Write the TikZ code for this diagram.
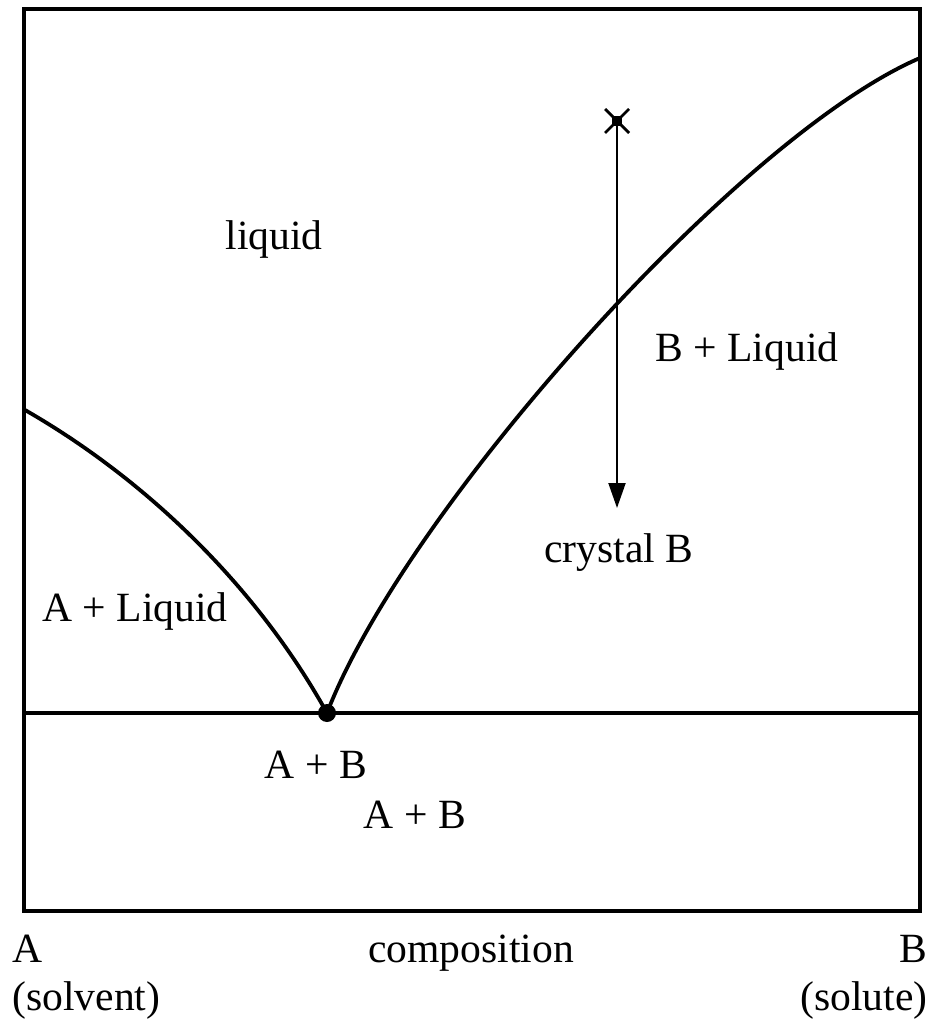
\documentclass[tikz,border=0pt]{standalone}
\usepackage{fontspec}
\setmainfont{Liberation Serif}
\usetikzlibrary{arrows.meta,calc}
\begin{document}
\begin{tikzpicture}[x=0.5pt,y=-0.5pt,
  frame/.style={line width=2pt},
  curve/.style={line width=1.9pt},
  lbl/.style={anchor=base,inner sep=0pt,font=\fontsize{20.8}{24}\selectfont},
  arr/.style={line width=1pt,-{Triangle[length=12.5pt,width=8.5pt]}}]
\useasboundingbox (0,0) rectangle (934,1020);
% frame
\coordinate (TL) at (24,9);
\coordinate (BR) at (920,911);
\draw[frame,line join=miter] (TL) rectangle (BR);
% eutectic line
\coordinate (EL) at (24,713);
\coordinate (ER) at (920,713);
\draw[line width=1.6pt] (EL) -- (ER);
% liquidus curves
\coordinate (LA) at (25,410);
\coordinate (LB) at (920,58);
\node[circle,fill=black,inner sep=0pt,minimum size=9pt] (E) at (327,713) {};
\draw[curve] (LA) .. controls (147,480) and (257,587) .. (E.center);
\draw[curve] (E.center) .. controls (405,510) and (740,135) .. (LB);
% cooling path
\coordinate (X) at (617,121);
\coordinate (T) at (617,508);
\draw[arr] (X) -- (T);
\draw[line width=1.4pt] ($(X)+(-12,-12)$) -- ($(X)+(12,12)$);
\draw[line width=1.4pt] ($(X)+(-12,12)$) -- ($(X)+(12,-12)$);
\fill ($(X)+(-5,-5)$) rectangle ($(X)+(5,5)$);
% labels
\node[lbl] (liq) at (274,250) {liquid};
\node[lbl] (bl) at (747,362) {B + Liquid};
\node[lbl] (cb) at (619,562) {crystal B};
\node[lbl] (al) at (135,621) {A + Liquid};
\node[lbl] (ab1) at (316,778) {A + B};
\node[lbl] (ab2) at (415,828) {A + B};
\node[lbl] (comp) at (471,962) {composition};
\node[lbl,anchor=base west] (a) at (12,962) {A};
\node[lbl,anchor=base west] (sv) at (12,1010) {(solvent)};
\node[lbl,anchor=base east] (b) at (928,962) {B};
\node[lbl,anchor=base east] (su) at (928,1010) {(solute)};
\end{tikzpicture}
\end{document}
